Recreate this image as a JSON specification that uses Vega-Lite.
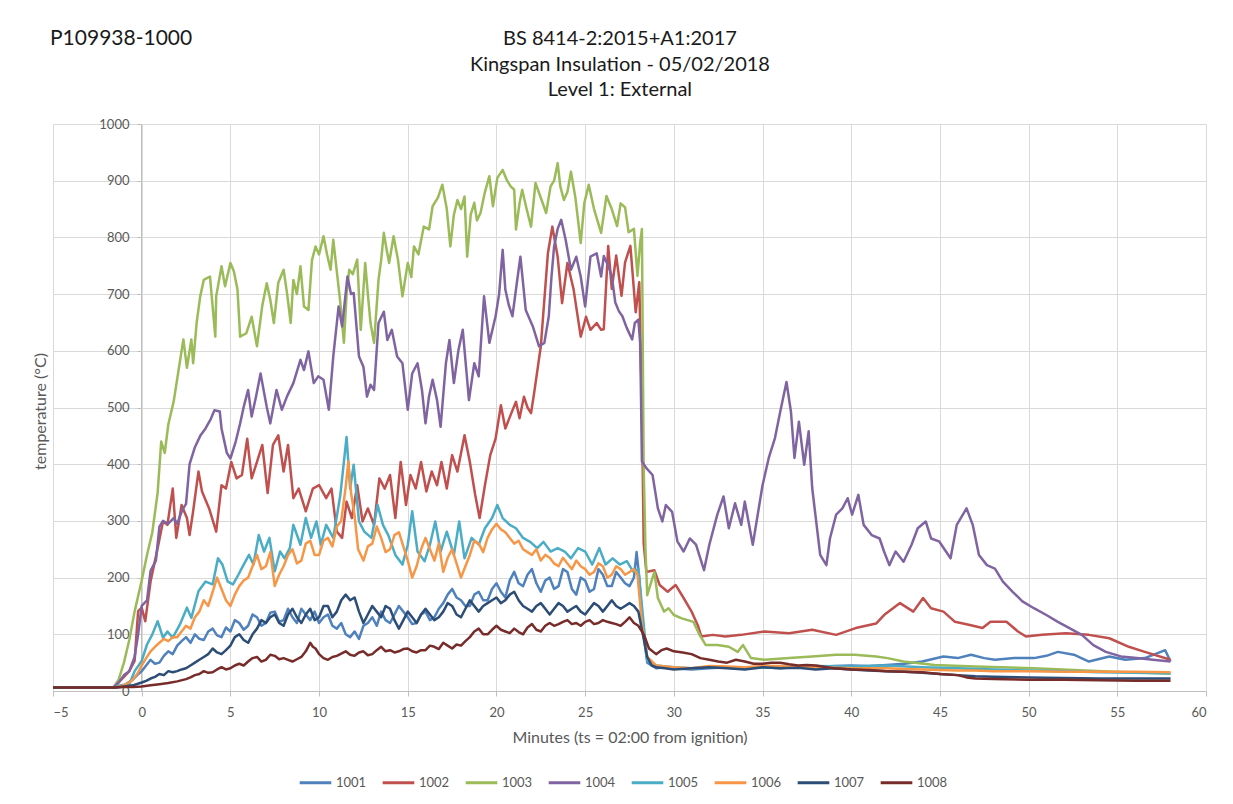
{
  "$schema": "https://vega.github.io/schema/vega-lite/v6.json",
  "width": 1153,
  "height": 567,
  "autosize": {"type": "none"},
  "padding": {"left": 53, "top": 124, "right": 27, "bottom": 113},
  "background": "white",
  "config": {
    "font": "Lato",
    "view": {"stroke": null}
  },
  "layer": [
    {
      "data": {
        "values": [
          {"s":"1001","t":-5,"v":6},{"s":"1001","t":-1.5,"v":6},{"s":"1001","t":-1.25,"v":8},{"s":"1001","t":-1,"v":10},{"s":"1001","t":-0.75,"v":15},{"s":"1001","t":-0.5,"v":20},{"s":"1001","t":-0.25,"v":28},{"s":"1001","t":0,"v":35},{"s":"1001","t":0.25,"v":45},{"s":"1001","t":0.5,"v":55},{"s":"1001","t":0.75,"v":48},{"s":"1001","t":1,"v":50},{"s":"1001","t":1.25,"v":62},{"s":"1001","t":1.5,"v":70},{"s":"1001","t":1.75,"v":65},{"s":"1001","t":2,"v":80},{"s":"1001","t":2.25,"v":88},{"s":"1001","t":2.5,"v":95},{"s":"1001","t":2.75,"v":85},{"s":"1001","t":3,"v":100},{"s":"1001","t":3.25,"v":92},{"s":"1001","t":3.5,"v":90},{"s":"1001","t":3.75,"v":105},{"s":"1001","t":4,"v":110},{"s":"1001","t":4.25,"v":98},{"s":"1001","t":4.5,"v":95},{"s":"1001","t":4.75,"v":112},{"s":"1001","t":5,"v":105},{"s":"1001","t":5.25,"v":125},{"s":"1001","t":5.5,"v":120},{"s":"1001","t":5.75,"v":108},{"s":"1001","t":6,"v":115},{"s":"1001","t":6.25,"v":135},{"s":"1001","t":6.5,"v":130},{"s":"1001","t":6.75,"v":115},{"s":"1001","t":7,"v":120},{"s":"1001","t":7.25,"v":138},{"s":"1001","t":7.5,"v":140},{"s":"1001","t":7.75,"v":122},{"s":"1001","t":8,"v":125},{"s":"1001","t":8.25,"v":145},{"s":"1001","t":8.5,"v":130},{"s":"1001","t":8.75,"v":120},{"s":"1001","t":9,"v":145},{"s":"1001","t":9.25,"v":135},{"s":"1001","t":9.5,"v":125},{"s":"1001","t":9.75,"v":140},{"s":"1001","t":10,"v":120},{"s":"1001","t":10.25,"v":130},{"s":"1001","t":10.5,"v":135},{"s":"1001","t":10.75,"v":115},{"s":"1001","t":11,"v":110},{"s":"1001","t":11.25,"v":120},{"s":"1001","t":11.5,"v":100},{"s":"1001","t":11.75,"v":95},{"s":"1001","t":12,"v":105},{"s":"1001","t":12.25,"v":92},{"s":"1001","t":12.5,"v":115},{"s":"1001","t":12.75,"v":120},{"s":"1001","t":13,"v":130},{"s":"1001","t":13.25,"v":115},{"s":"1001","t":13.5,"v":140},{"s":"1001","t":13.75,"v":125},{"s":"1001","t":14,"v":120},{"s":"1001","t":14.25,"v":135},{"s":"1001","t":14.5,"v":150},{"s":"1001","t":14.75,"v":140},{"s":"1001","t":15,"v":130},{"s":"1001","t":15.25,"v":118},{"s":"1001","t":15.5,"v":120},{"s":"1001","t":15.75,"v":135},{"s":"1001","t":16,"v":140},{"s":"1001","t":16.25,"v":125},{"s":"1001","t":16.5,"v":130},{"s":"1001","t":16.75,"v":145},{"s":"1001","t":17,"v":155},{"s":"1001","t":17.25,"v":170},{"s":"1001","t":17.5,"v":180},{"s":"1001","t":17.75,"v":165},{"s":"1001","t":18,"v":160},{"s":"1001","t":18.25,"v":150},{"s":"1001","t":18.5,"v":150},{"s":"1001","t":18.75,"v":170},{"s":"1001","t":19,"v":175},{"s":"1001","t":19.25,"v":160},{"s":"1001","t":19.5,"v":160},{"s":"1001","t":19.75,"v":180},{"s":"1001","t":20,"v":190},{"s":"1001","t":20.25,"v":175},{"s":"1001","t":20.5,"v":165},{"s":"1001","t":20.75,"v":195},{"s":"1001","t":21,"v":210},{"s":"1001","t":21.25,"v":190},{"s":"1001","t":21.5,"v":185},{"s":"1001","t":21.75,"v":205},{"s":"1001","t":22,"v":215},{"s":"1001","t":22.25,"v":190},{"s":"1001","t":22.5,"v":175},{"s":"1001","t":22.75,"v":195},{"s":"1001","t":23,"v":200},{"s":"1001","t":23.25,"v":180},{"s":"1001","t":23.5,"v":185},{"s":"1001","t":23.75,"v":215},{"s":"1001","t":24,"v":210},{"s":"1001","t":24.25,"v":180},{"s":"1001","t":24.5,"v":170},{"s":"1001","t":24.75,"v":200},{"s":"1001","t":25,"v":195},{"s":"1001","t":25.25,"v":175},{"s":"1001","t":25.5,"v":180},{"s":"1001","t":25.75,"v":215},{"s":"1001","t":26,"v":205},{"s":"1001","t":26.25,"v":185},{"s":"1001","t":26.5,"v":185},{"s":"1001","t":26.75,"v":210},{"s":"1001","t":27,"v":200},{"s":"1001","t":27.25,"v":190},{"s":"1001","t":27.5,"v":185},{"s":"1001","t":27.75,"v":200},{"s":"1001","t":27.9,"v":245},{"s":"1001","t":28.05,"v":200},{"s":"1001","t":28.25,"v":110},{"s":"1001","t":28.5,"v":50},{"s":"1001","t":28.75,"v":45},{"s":"1001","t":29,"v":40},{"s":"1001","t":29.5,"v":42},{"s":"1001","t":30,"v":40},{"s":"1001","t":31,"v":38},{"s":"1001","t":32,"v":40},{"s":"1001","t":33,"v":42},{"s":"1001","t":34,"v":40},{"s":"1001","t":35,"v":42},{"s":"1001","t":36,"v":40},{"s":"1001","t":37,"v":43},{"s":"1001","t":38,"v":42},{"s":"1001","t":39,"v":44},{"s":"1001","t":40,"v":45},{"s":"1001","t":41,"v":44},{"s":"1001","t":42,"v":46},{"s":"1001","t":43,"v":48},{"s":"1001","t":44,"v":52},{"s":"1001","t":45.2,"v":61},{"s":"1001","t":46,"v":58},{"s":"1001","t":46.75,"v":64},{"s":"1001","t":47.5,"v":58},{"s":"1001","t":48.1,"v":55},{"s":"1001","t":49.2,"v":58},{"s":"1001","t":50.3,"v":58},{"s":"1001","t":51,"v":62},{"s":"1001","t":51.65,"v":69},{"s":"1001","t":52.55,"v":64},{"s":"1001","t":53.4,"v":52},{"s":"1001","t":54.55,"v":61},{"s":"1001","t":55.45,"v":55},{"s":"1001","t":56.55,"v":58},{"s":"1001","t":57.45,"v":69},{"s":"1001","t":57.7,"v":72},{"s":"1001","t":58,"v":52},

          {"s":"1002","t":-5,"v":6},{"s":"1002","t":-1.6,"v":6},{"s":"1002","t":-1.3,"v":15},{"s":"1002","t":-1,"v":25},{"s":"1002","t":-0.7,"v":35},{"s":"1002","t":-0.4,"v":53},{"s":"1002","t":-0.2,"v":141},{"s":"1002","t":0,"v":147},{"s":"1002","t":0.2,"v":123},{"s":"1002","t":0.5,"v":193},{"s":"1002","t":0.9,"v":252},{"s":"1002","t":1.2,"v":299},{"s":"1002","t":1.45,"v":293},{"s":"1002","t":1.75,"v":357},{"s":"1002","t":1.95,"v":270},{"s":"1002","t":2.25,"v":328},{"s":"1002","t":2.55,"v":305},{"s":"1002","t":2.7,"v":275},{"s":"1002","t":2.9,"v":317},{"s":"1002","t":3.2,"v":387},{"s":"1002","t":3.4,"v":352},{"s":"1002","t":3.8,"v":322},{"s":"1002","t":4.2,"v":281},{"s":"1002","t":4.5,"v":363},{"s":"1002","t":4.75,"v":357},{"s":"1002","t":5.05,"v":404},{"s":"1002","t":5.35,"v":375},{"s":"1002","t":5.65,"v":381},{"s":"1002","t":5.95,"v":445},{"s":"1002","t":6.2,"v":375},{"s":"1002","t":6.5,"v":404},{"s":"1002","t":6.8,"v":434},{"s":"1002","t":7.1,"v":349},{"s":"1002","t":7.4,"v":434},{"s":"1002","t":7.7,"v":451},{"s":"1002","t":8,"v":387},{"s":"1002","t":8.25,"v":434},{"s":"1002","t":8.55,"v":340},{"s":"1002","t":8.85,"v":357},{"s":"1002","t":9.25,"v":317},{"s":"1002","t":9.65,"v":357},{"s":"1002","t":10,"v":363},{"s":"1002","t":10.4,"v":340},{"s":"1002","t":10.7,"v":357},{"s":"1002","t":11,"v":281},{"s":"1002","t":11.3,"v":270},{"s":"1002","t":11.55,"v":334},{"s":"1002","t":11.85,"v":305},{"s":"1002","t":12.15,"v":363},{"s":"1002","t":12.45,"v":299},{"s":"1002","t":12.75,"v":322},{"s":"1002","t":13.1,"v":293},{"s":"1002","t":13.4,"v":375},{"s":"1002","t":13.7,"v":357},{"s":"1002","t":14,"v":381},{"s":"1002","t":14.3,"v":305},{"s":"1002","t":14.6,"v":404},{"s":"1002","t":14.9,"v":328},{"s":"1002","t":15.15,"v":381},{"s":"1002","t":15.45,"v":357},{"s":"1002","t":15.75,"v":404},{"s":"1002","t":16.05,"v":352},{"s":"1002","t":16.35,"v":387},{"s":"1002","t":16.65,"v":363},{"s":"1002","t":16.9,"v":404},{"s":"1002","t":17.2,"v":357},{"s":"1002","t":17.5,"v":416},{"s":"1002","t":17.8,"v":387},{"s":"1002","t":18.2,"v":451},{"s":"1002","t":18.5,"v":404},{"s":"1002","t":18.8,"v":346},{"s":"1002","t":19.05,"v":305},{"s":"1002","t":19.35,"v":363},{"s":"1002","t":19.65,"v":416},{"s":"1002","t":19.95,"v":445},{"s":"1002","t":20.25,"v":504},{"s":"1002","t":20.5,"v":463},{"s":"1002","t":20.8,"v":487},{"s":"1002","t":21.1,"v":510},{"s":"1002","t":21.3,"v":481},{"s":"1002","t":21.55,"v":519},{"s":"1002","t":21.75,"v":500},{"s":"1002","t":21.95,"v":490},{"s":"1002","t":22.15,"v":531},{"s":"1002","t":22.5,"v":608},{"s":"1002","t":22.9,"v":772},{"s":"1002","t":23.15,"v":819},{"s":"1002","t":23.45,"v":766},{"s":"1002","t":23.7,"v":684},{"s":"1002","t":24,"v":755},{"s":"1002","t":24.35,"v":708},{"s":"1002","t":24.75,"v":625},{"s":"1002","t":25.05,"v":660},{"s":"1002","t":25.3,"v":637},{"s":"1002","t":25.65,"v":649},{"s":"1002","t":25.9,"v":637},{"s":"1002","t":26.05,"v":638},{"s":"1002","t":26.3,"v":785},{"s":"1002","t":26.5,"v":709},{"s":"1002","t":26.75,"v":768},{"s":"1002","t":27.05,"v":697},{"s":"1002","t":27.25,"v":756},{"s":"1002","t":27.55,"v":785},{"s":"1002","t":27.85,"v":668},{"s":"1002","t":28.05,"v":721},{"s":"1002","t":28.2,"v":500},{"s":"1002","t":28.3,"v":260},{"s":"1002","t":28.45,"v":210},{"s":"1002","t":28.9,"v":213},{"s":"1002","t":29.2,"v":187},{"s":"1002","t":29.65,"v":175},{"s":"1002","t":30.1,"v":187},{"s":"1002","t":30.55,"v":164},{"s":"1002","t":31,"v":140},{"s":"1002","t":31.35,"v":116},{"s":"1002","t":31.55,"v":96},{"s":"1002","t":32.2,"v":99},{"s":"1002","t":32.9,"v":96},{"s":"1002","t":33.8,"v":99},{"s":"1002","t":35.1,"v":105},{"s":"1002","t":36.5,"v":102},{"s":"1002","t":37.8,"v":108},{"s":"1002","t":39.15,"v":99},{"s":"1002","t":40.25,"v":111},{"s":"1002","t":41.4,"v":119},{"s":"1002","t":41.85,"v":134},{"s":"1002","t":42.75,"v":155},{"s":"1002","t":43.5,"v":140},{"s":"1002","t":44.05,"v":164},{"s":"1002","t":44.5,"v":146},{"s":"1002","t":45.2,"v":140},{"s":"1002","t":45.85,"v":122},{"s":"1002","t":46.75,"v":116},{"s":"1002","t":47.4,"v":111},{"s":"1002","t":47.85,"v":122},{"s":"1002","t":48.75,"v":122},{"s":"1002","t":49.4,"v":105},{"s":"1002","t":49.85,"v":96},{"s":"1002","t":50.75,"v":99},{"s":"1002","t":52.1,"v":102},{"s":"1002","t":53.4,"v":99},{"s":"1002","t":54.55,"v":93},{"s":"1002","t":55.65,"v":78},{"s":"1002","t":56.55,"v":69},{"s":"1002","t":58,"v":55},

          {"s":"1003","t":-5,"v":6},{"s":"1003","t":-1.6,"v":6},{"s":"1003","t":-1.3,"v":20},{"s":"1003","t":-1,"v":50},{"s":"1003","t":-0.7,"v":90},{"s":"1003","t":-0.4,"v":140},{"s":"1003","t":0,"v":195},{"s":"1003","t":0.3,"v":240},{"s":"1003","t":0.6,"v":280},{"s":"1003","t":0.9,"v":350},{"s":"1003","t":1.1,"v":440},{"s":"1003","t":1.3,"v":420},{"s":"1003","t":1.5,"v":470},{"s":"1003","t":1.8,"v":510},{"s":"1003","t":2,"v":550},{"s":"1003","t":2.35,"v":620},{"s":"1003","t":2.55,"v":570},{"s":"1003","t":2.8,"v":620},{"s":"1003","t":2.9,"v":578},{"s":"1003","t":3.1,"v":650},{"s":"1003","t":3.3,"v":696},{"s":"1003","t":3.5,"v":725},{"s":"1003","t":3.85,"v":731},{"s":"1003","t":4.15,"v":625},{"s":"1003","t":4.2,"v":696},{"s":"1003","t":4.5,"v":749},{"s":"1003","t":4.7,"v":714},{"s":"1003","t":5,"v":755},{"s":"1003","t":5.2,"v":740},{"s":"1003","t":5.4,"v":708},{"s":"1003","t":5.55,"v":625},{"s":"1003","t":5.9,"v":631},{"s":"1003","t":6.2,"v":660},{"s":"1003","t":6.5,"v":608},{"s":"1003","t":6.8,"v":680},{"s":"1003","t":7.05,"v":719},{"s":"1003","t":7.25,"v":690},{"s":"1003","t":7.45,"v":649},{"s":"1003","t":7.7,"v":720},{"s":"1003","t":8,"v":743},{"s":"1003","t":8.2,"v":700},{"s":"1003","t":8.4,"v":649},{"s":"1003","t":8.55,"v":725},{"s":"1003","t":8.75,"v":700},{"s":"1003","t":8.95,"v":749},{"s":"1003","t":9.15,"v":678},{"s":"1003","t":9.4,"v":672},{"s":"1003","t":9.6,"v":760},{"s":"1003","t":9.8,"v":784},{"s":"1003","t":10,"v":770},{"s":"1003","t":10.25,"v":802},{"s":"1003","t":10.45,"v":770},{"s":"1003","t":10.65,"v":743},{"s":"1003","t":10.8,"v":796},{"s":"1003","t":11,"v":740},{"s":"1003","t":11.2,"v":684},{"s":"1003","t":11.4,"v":614},{"s":"1003","t":11.55,"v":700},{"s":"1003","t":11.7,"v":743},{"s":"1003","t":11.9,"v":735},{"s":"1003","t":12.15,"v":761},{"s":"1003","t":12.35,"v":637},{"s":"1003","t":12.6,"v":755},{"s":"1003","t":12.75,"v":700},{"s":"1003","t":12.9,"v":649},{"s":"1003","t":13.1,"v":614},{"s":"1003","t":13.35,"v":725},{"s":"1003","t":13.5,"v":760},{"s":"1003","t":13.65,"v":808},{"s":"1003","t":13.8,"v":780},{"s":"1003","t":13.95,"v":755},{"s":"1003","t":14.2,"v":802},{"s":"1003","t":14.45,"v":760},{"s":"1003","t":14.7,"v":696},{"s":"1003","t":15,"v":755},{"s":"1003","t":15.2,"v":730},{"s":"1003","t":15.35,"v":784},{"s":"1003","t":15.6,"v":770},{"s":"1003","t":15.9,"v":819},{"s":"1003","t":16.2,"v":814},{"s":"1003","t":16.4,"v":855},{"s":"1003","t":16.7,"v":870},{"s":"1003","t":16.95,"v":893},{"s":"1003","t":17.2,"v":850},{"s":"1003","t":17.4,"v":784},{"s":"1003","t":17.6,"v":840},{"s":"1003","t":17.8,"v":866},{"s":"1003","t":18,"v":850},{"s":"1003","t":18.2,"v":872},{"s":"1003","t":18.35,"v":766},{"s":"1003","t":18.55,"v":840},{"s":"1003","t":18.75,"v":861},{"s":"1003","t":18.9,"v":830},{"s":"1003","t":19.1,"v":843},{"s":"1003","t":19.35,"v":880},{"s":"1003","t":19.6,"v":908},{"s":"1003","t":19.8,"v":855},{"s":"1003","t":20.05,"v":905},{"s":"1003","t":20.35,"v":919},{"s":"1003","t":20.6,"v":900},{"s":"1003","t":20.8,"v":890},{"s":"1003","t":21,"v":884},{"s":"1003","t":21.1,"v":814},{"s":"1003","t":21.3,"v":860},{"s":"1003","t":21.45,"v":884},{"s":"1003","t":21.7,"v":850},{"s":"1003","t":21.95,"v":819},{"s":"1003","t":22.2,"v":896},{"s":"1003","t":22.5,"v":870},{"s":"1003","t":22.8,"v":843},{"s":"1003","t":23.05,"v":890},{"s":"1003","t":23.25,"v":900},{"s":"1003","t":23.45,"v":931},{"s":"1003","t":23.6,"v":890},{"s":"1003","t":23.8,"v":866},{"s":"1003","t":24,"v":880},{"s":"1003","t":24.2,"v":916},{"s":"1003","t":24.45,"v":870},{"s":"1003","t":24.75,"v":790},{"s":"1003","t":24.95,"v":860},{"s":"1003","t":25.2,"v":893},{"s":"1003","t":25.5,"v":850},{"s":"1003","t":25.9,"v":808},{"s":"1003","t":26.2,"v":873},{"s":"1003","t":26.5,"v":850},{"s":"1003","t":26.8,"v":820},{"s":"1003","t":27,"v":860},{"s":"1003","t":27.25,"v":853},{"s":"1003","t":27.45,"v":809},{"s":"1003","t":27.75,"v":815},{"s":"1003","t":27.95,"v":732},{"s":"1003","t":28.1,"v":790},{"s":"1003","t":28.2,"v":815},{"s":"1003","t":28.25,"v":600},{"s":"1003","t":28.3,"v":393},{"s":"1003","t":28.4,"v":250},{"s":"1003","t":28.5,"v":169},{"s":"1003","t":28.9,"v":210},{"s":"1003","t":29.1,"v":164},{"s":"1003","t":29.45,"v":140},{"s":"1003","t":29.7,"v":146},{"s":"1003","t":30,"v":134},{"s":"1003","t":30.45,"v":128},{"s":"1003","t":31.1,"v":122},{"s":"1003","t":31.45,"v":99},{"s":"1003","t":31.8,"v":81},{"s":"1003","t":32.45,"v":81},{"s":"1003","t":33.1,"v":78},{"s":"1003","t":33.6,"v":69},{"s":"1003","t":33.9,"v":81},{"s":"1003","t":34.35,"v":58},{"s":"1003","t":35.1,"v":55},{"s":"1003","t":36.5,"v":58},{"s":"1003","t":37.8,"v":61},{"s":"1003","t":39.15,"v":64},{"s":"1003","t":40.2,"v":64},{"s":"1003","t":41.4,"v":61},{"s":"1003","t":42.05,"v":58},{"s":"1003","t":42.95,"v":52},{"s":"1003","t":44.7,"v":46},{"s":"1003","t":47,"v":43},{"s":"1003","t":50.3,"v":40},{"s":"1003","t":54.8,"v":34},{"s":"1003","t":58,"v":31},

          {"s":"1004","t":-5,"v":6},{"s":"1004","t":-1.6,"v":6},{"s":"1004","t":-1.3,"v":15},{"s":"1004","t":-1,"v":28},{"s":"1004","t":-0.7,"v":35},{"s":"1004","t":-0.4,"v":60},{"s":"1004","t":-0.2,"v":100},{"s":"1004","t":0,"v":150},{"s":"1004","t":0.3,"v":160},{"s":"1004","t":0.5,"v":212},{"s":"1004","t":0.8,"v":230},{"s":"1004","t":1,"v":290},{"s":"1004","t":1.2,"v":300},{"s":"1004","t":1.5,"v":295},{"s":"1004","t":1.8,"v":305},{"s":"1004","t":2,"v":295},{"s":"1004","t":2.3,"v":320},{"s":"1004","t":2.5,"v":330},{"s":"1004","t":2.7,"v":400},{"s":"1004","t":3,"v":430},{"s":"1004","t":3.3,"v":450},{"s":"1004","t":3.6,"v":463},{"s":"1004","t":3.9,"v":480},{"s":"1004","t":4.1,"v":495},{"s":"1004","t":4.4,"v":493},{"s":"1004","t":4.5,"v":463},{"s":"1004","t":4.8,"v":420},{"s":"1004","t":5,"v":410},{"s":"1004","t":5.3,"v":440},{"s":"1004","t":5.55,"v":472},{"s":"1004","t":5.75,"v":501},{"s":"1004","t":6,"v":531},{"s":"1004","t":6.2,"v":484},{"s":"1004","t":6.45,"v":520},{"s":"1004","t":6.7,"v":560},{"s":"1004","t":7.05,"v":501},{"s":"1004","t":7.25,"v":472},{"s":"1004","t":7.6,"v":531},{"s":"1004","t":7.9,"v":496},{"s":"1004","t":8.2,"v":520},{"s":"1004","t":8.55,"v":543},{"s":"1004","t":8.95,"v":584},{"s":"1004","t":9.15,"v":566},{"s":"1004","t":9.4,"v":599},{"s":"1004","t":9.7,"v":543},{"s":"1004","t":9.95,"v":555},{"s":"1004","t":10.25,"v":549},{"s":"1004","t":10.55,"v":496},{"s":"1004","t":10.8,"v":590},{"s":"1004","t":11.1,"v":678},{"s":"1004","t":11.3,"v":643},{"s":"1004","t":11.6,"v":731},{"s":"1004","t":11.8,"v":700},{"s":"1004","t":11.95,"v":702},{"s":"1004","t":12.25,"v":590},{"s":"1004","t":12.5,"v":572},{"s":"1004","t":12.7,"v":519},{"s":"1004","t":12.9,"v":540},{"s":"1004","t":13.1,"v":531},{"s":"1004","t":13.35,"v":649},{"s":"1004","t":13.65,"v":669},{"s":"1004","t":13.85,"v":619},{"s":"1004","t":14.1,"v":637},{"s":"1004","t":14.4,"v":590},{"s":"1004","t":14.7,"v":578},{"s":"1004","t":15,"v":496},{"s":"1004","t":15.25,"v":560},{"s":"1004","t":15.55,"v":578},{"s":"1004","t":15.8,"v":531},{"s":"1004","t":16,"v":472},{"s":"1004","t":16.2,"v":520},{"s":"1004","t":16.4,"v":549},{"s":"1004","t":16.65,"v":513},{"s":"1004","t":16.85,"v":466},{"s":"1004","t":17.15,"v":578},{"s":"1004","t":17.35,"v":619},{"s":"1004","t":17.6,"v":543},{"s":"1004","t":17.85,"v":600},{"s":"1004","t":18.1,"v":637},{"s":"1004","t":18.45,"v":513},{"s":"1004","t":18.75,"v":578},{"s":"1004","t":19,"v":555},{"s":"1004","t":19.3,"v":696},{"s":"1004","t":19.6,"v":614},{"s":"1004","t":19.95,"v":661},{"s":"1004","t":20.15,"v":700},{"s":"1004","t":20.35,"v":778},{"s":"1004","t":20.5,"v":708},{"s":"1004","t":20.7,"v":680},{"s":"1004","t":20.9,"v":661},{"s":"1004","t":21.15,"v":720},{"s":"1004","t":21.35,"v":766},{"s":"1004","t":21.65,"v":672},{"s":"1004","t":22.05,"v":643},{"s":"1004","t":22.4,"v":608},{"s":"1004","t":22.7,"v":614},{"s":"1004","t":22.95,"v":661},{"s":"1004","t":23.1,"v":730},{"s":"1004","t":23.25,"v":784},{"s":"1004","t":23.45,"v":815},{"s":"1004","t":23.65,"v":831},{"s":"1004","t":23.9,"v":796},{"s":"1004","t":24.2,"v":743},{"s":"1004","t":24.5,"v":766},{"s":"1004","t":24.75,"v":731},{"s":"1004","t":25,"v":678},{"s":"1004","t":25.3,"v":766},{"s":"1004","t":25.65,"v":772},{"s":"1004","t":25.9,"v":731},{"s":"1004","t":26.05,"v":767},{"s":"1004","t":26.3,"v":750},{"s":"1004","t":26.5,"v":732},{"s":"1004","t":26.7,"v":685},{"s":"1004","t":26.9,"v":670},{"s":"1004","t":27.1,"v":661},{"s":"1004","t":27.35,"v":640},{"s":"1004","t":27.65,"v":620},{"s":"1004","t":27.8,"v":649},{"s":"1004","t":28,"v":655},{"s":"1004","t":28.1,"v":614},{"s":"1004","t":28.15,"v":516},{"s":"1004","t":28.2,"v":405},{"s":"1004","t":28.45,"v":393},{"s":"1004","t":28.8,"v":381},{"s":"1004","t":29.1,"v":322},{"s":"1004","t":29.35,"v":299},{"s":"1004","t":29.55,"v":328},{"s":"1004","t":29.9,"v":316},{"s":"1004","t":30.2,"v":264},{"s":"1004","t":30.55,"v":246},{"s":"1004","t":30.9,"v":269},{"s":"1004","t":31.25,"v":258},{"s":"1004","t":31.7,"v":213},{"s":"1004","t":32,"v":258},{"s":"1004","t":32.45,"v":311},{"s":"1004","t":32.8,"v":343},{"s":"1004","t":33.1,"v":287},{"s":"1004","t":33.45,"v":331},{"s":"1004","t":33.8,"v":293},{"s":"1004","t":34,"v":334},{"s":"1004","t":34.45,"v":258},{"s":"1004","t":35,"v":363},{"s":"1004","t":35.35,"v":411},{"s":"1004","t":35.7,"v":446},{"s":"1004","t":36,"v":493},{"s":"1004","t":36.35,"v":545},{"s":"1004","t":36.6,"v":493},{"s":"1004","t":36.8,"v":411},{"s":"1004","t":37.05,"v":475},{"s":"1004","t":37.35,"v":399},{"s":"1004","t":37.6,"v":458},{"s":"1004","t":37.8,"v":358},{"s":"1004","t":38.25,"v":240},{"s":"1004","t":38.6,"v":222},{"s":"1004","t":38.8,"v":269},{"s":"1004","t":39.15,"v":311},{"s":"1004","t":39.5,"v":322},{"s":"1004","t":39.8,"v":340},{"s":"1004","t":40.05,"v":311},{"s":"1004","t":40.4,"v":346},{"s":"1004","t":40.7,"v":293},{"s":"1004","t":41.15,"v":275},{"s":"1004","t":41.6,"v":269},{"s":"1004","t":41.85,"v":246},{"s":"1004","t":42.15,"v":222},{"s":"1004","t":42.5,"v":246},{"s":"1004","t":42.95,"v":228},{"s":"1004","t":43.4,"v":258},{"s":"1004","t":43.75,"v":287},{"s":"1004","t":44.2,"v":299},{"s":"1004","t":44.5,"v":269},{"s":"1004","t":44.95,"v":264},{"s":"1004","t":45.6,"v":234},{"s":"1004","t":45.95,"v":293},{"s":"1004","t":46.5,"v":322},{"s":"1004","t":46.85,"v":293},{"s":"1004","t":47.2,"v":240},{"s":"1004","t":47.65,"v":222},{"s":"1004","t":48.1,"v":216},{"s":"1004","t":48.55,"v":193},{"s":"1004","t":49.1,"v":175},{"s":"1004","t":49.65,"v":158},{"s":"1004","t":50.3,"v":146},{"s":"1004","t":51,"v":134},{"s":"1004","t":51.65,"v":122},{"s":"1004","t":52.3,"v":111},{"s":"1004","t":53,"v":99},{"s":"1004","t":53.65,"v":81},{"s":"1004","t":54.35,"v":69},{"s":"1004","t":55.2,"v":61},{"s":"1004","t":56.1,"v":58},{"s":"1004","t":57,"v":55},{"s":"1004","t":58,"v":52},

          {"s":"1005","t":-5,"v":6},{"s":"1005","t":-1.6,"v":6},{"s":"1005","t":-1.2,"v":10},{"s":"1005","t":-0.7,"v":12},{"s":"1005","t":-0.4,"v":35},{"s":"1005","t":0,"v":53},{"s":"1005","t":0.3,"v":82},{"s":"1005","t":0.6,"v":100},{"s":"1005","t":0.9,"v":123},{"s":"1005","t":1.2,"v":94},{"s":"1005","t":1.45,"v":105},{"s":"1005","t":1.75,"v":94},{"s":"1005","t":2.15,"v":117},{"s":"1005","t":2.55,"v":147},{"s":"1005","t":2.8,"v":129},{"s":"1005","t":3.2,"v":176},{"s":"1005","t":3.6,"v":193},{"s":"1005","t":4,"v":188},{"s":"1005","t":4.3,"v":234},{"s":"1005","t":4.55,"v":223},{"s":"1005","t":4.85,"v":193},{"s":"1005","t":5.15,"v":188},{"s":"1005","t":5.45,"v":205},{"s":"1005","t":5.75,"v":223},{"s":"1005","t":6.05,"v":240},{"s":"1005","t":6.3,"v":223},{"s":"1005","t":6.6,"v":275},{"s":"1005","t":6.9,"v":246},{"s":"1005","t":7.2,"v":270},{"s":"1005","t":7.5,"v":211},{"s":"1005","t":7.8,"v":246},{"s":"1005","t":8.05,"v":234},{"s":"1005","t":8.35,"v":252},{"s":"1005","t":8.55,"v":293},{"s":"1005","t":8.95,"v":258},{"s":"1005","t":9.25,"v":305},{"s":"1005","t":9.55,"v":270},{"s":"1005","t":9.85,"v":299},{"s":"1005","t":10.1,"v":258},{"s":"1005","t":10.4,"v":293},{"s":"1005","t":10.8,"v":270},{"s":"1005","t":11.2,"v":346},{"s":"1005","t":11.55,"v":448},{"s":"1005","t":11.75,"v":357},{"s":"1005","t":11.95,"v":399},{"s":"1005","t":12.25,"v":299},{"s":"1005","t":12.55,"v":281},{"s":"1005","t":12.95,"v":270},{"s":"1005","t":13.3,"v":328},{"s":"1005","t":13.6,"v":293},{"s":"1005","t":13.9,"v":275},{"s":"1005","t":14.3,"v":240},{"s":"1005","t":14.7,"v":223},{"s":"1005","t":15,"v":258},{"s":"1005","t":15.25,"v":317},{"s":"1005","t":15.55,"v":246},{"s":"1005","t":15.95,"v":229},{"s":"1005","t":16.25,"v":258},{"s":"1005","t":16.55,"v":299},{"s":"1005","t":16.85,"v":246},{"s":"1005","t":17.2,"v":281},{"s":"1005","t":17.6,"v":240},{"s":"1005","t":17.9,"v":299},{"s":"1005","t":18.2,"v":234},{"s":"1005","t":18.6,"v":270},{"s":"1005","t":19,"v":258},{"s":"1005","t":19.35,"v":287},{"s":"1005","t":19.75,"v":305},{"s":"1005","t":20.05,"v":328},{"s":"1005","t":20.35,"v":305},{"s":"1005","t":20.75,"v":293},{"s":"1005","t":21.1,"v":287},{"s":"1005","t":21.5,"v":270},{"s":"1005","t":21.9,"v":263},{"s":"1005","t":22.3,"v":252},{"s":"1005","t":22.65,"v":263},{"s":"1005","t":23.05,"v":246},{"s":"1005","t":23.45,"v":252},{"s":"1005","t":23.85,"v":246},{"s":"1005","t":24.2,"v":234},{"s":"1005","t":24.6,"v":252},{"s":"1005","t":25,"v":246},{"s":"1005","t":25.4,"v":223},{"s":"1005","t":25.8,"v":252},{"s":"1005","t":26.15,"v":223},{"s":"1005","t":26.55,"v":234},{"s":"1005","t":26.95,"v":223},{"s":"1005","t":27.35,"v":229},{"s":"1005","t":27.7,"v":211},{"s":"1005","t":28,"v":215},{"s":"1005","t":28.2,"v":150},{"s":"1005","t":28.5,"v":53},{"s":"1005","t":29,"v":45},{"s":"1005","t":30,"v":42},{"s":"1005","t":31,"v":40},{"s":"1005","t":32,"v":42},{"s":"1005","t":34,"v":40},{"s":"1005","t":36,"v":42},{"s":"1005","t":38,"v":44},{"s":"1005","t":40,"v":43},{"s":"1005","t":42,"v":45},{"s":"1005","t":44,"v":42},{"s":"1005","t":46,"v":40},{"s":"1005","t":48,"v":38},{"s":"1005","t":50,"v":36},{"s":"1005","t":52,"v":35},{"s":"1005","t":54,"v":33},{"s":"1005","t":56,"v":32},{"s":"1005","t":58,"v":31},

          {"s":"1006","t":-5,"v":6},{"s":"1006","t":-1.5,"v":6},{"s":"1006","t":-1.25,"v":8},{"s":"1006","t":-1,"v":10},{"s":"1006","t":-0.75,"v":14},{"s":"1006","t":-0.5,"v":20},{"s":"1006","t":-0.25,"v":30},{"s":"1006","t":0,"v":45},{"s":"1006","t":0.25,"v":58},{"s":"1006","t":0.5,"v":70},{"s":"1006","t":0.75,"v":78},{"s":"1006","t":1,"v":85},{"s":"1006","t":1.25,"v":92},{"s":"1006","t":1.5,"v":88},{"s":"1006","t":1.75,"v":95},{"s":"1006","t":2,"v":95},{"s":"1006","t":2.25,"v":105},{"s":"1006","t":2.5,"v":115},{"s":"1006","t":2.75,"v":110},{"s":"1006","t":3,"v":130},{"s":"1006","t":3.25,"v":140},{"s":"1006","t":3.5,"v":160},{"s":"1006","t":3.75,"v":150},{"s":"1006","t":4,"v":175},{"s":"1006","t":4.25,"v":200},{"s":"1006","t":4.5,"v":180},{"s":"1006","t":4.75,"v":160},{"s":"1006","t":5,"v":150},{"s":"1006","t":5.25,"v":170},{"s":"1006","t":5.5,"v":185},{"s":"1006","t":5.75,"v":195},{"s":"1006","t":6,"v":200},{"s":"1006","t":6.25,"v":220},{"s":"1006","t":6.5,"v":240},{"s":"1006","t":6.75,"v":215},{"s":"1006","t":7,"v":220},{"s":"1006","t":7.25,"v":245},{"s":"1006","t":7.5,"v":185},{"s":"1006","t":7.75,"v":205},{"s":"1006","t":8,"v":220},{"s":"1006","t":8.25,"v":240},{"s":"1006","t":8.5,"v":250},{"s":"1006","t":8.75,"v":225},{"s":"1006","t":9,"v":230},{"s":"1006","t":9.25,"v":260},{"s":"1006","t":9.5,"v":265},{"s":"1006","t":9.75,"v":240},{"s":"1006","t":10,"v":240},{"s":"1006","t":10.25,"v":265},{"s":"1006","t":10.5,"v":270},{"s":"1006","t":10.75,"v":255},{"s":"1006","t":11,"v":290},{"s":"1006","t":11.25,"v":300},{"s":"1006","t":11.5,"v":360},{"s":"1006","t":11.65,"v":405},{"s":"1006","t":11.8,"v":350},{"s":"1006","t":12,"v":310},{"s":"1006","t":12.2,"v":250},{"s":"1006","t":12.5,"v":230},{"s":"1006","t":12.75,"v":255},{"s":"1006","t":13,"v":260},{"s":"1006","t":13.25,"v":290},{"s":"1006","t":13.5,"v":270},{"s":"1006","t":13.75,"v":245},{"s":"1006","t":14,"v":250},{"s":"1006","t":14.25,"v":275},{"s":"1006","t":14.5,"v":280},{"s":"1006","t":14.75,"v":255},{"s":"1006","t":15,"v":230},{"s":"1006","t":15.25,"v":200},{"s":"1006","t":15.5,"v":220},{"s":"1006","t":15.75,"v":250},{"s":"1006","t":16,"v":270},{"s":"1006","t":16.25,"v":250},{"s":"1006","t":16.5,"v":230},{"s":"1006","t":16.75,"v":260},{"s":"1006","t":17,"v":210},{"s":"1006","t":17.25,"v":235},{"s":"1006","t":17.5,"v":250},{"s":"1006","t":17.75,"v":225},{"s":"1006","t":18,"v":200},{"s":"1006","t":18.25,"v":220},{"s":"1006","t":18.5,"v":240},{"s":"1006","t":18.75,"v":265},{"s":"1006","t":19,"v":260},{"s":"1006","t":19.25,"v":245},{"s":"1006","t":19.5,"v":270},{"s":"1006","t":19.75,"v":285},{"s":"1006","t":20,"v":295},{"s":"1006","t":20.25,"v":285},{"s":"1006","t":20.5,"v":280},{"s":"1006","t":20.75,"v":270},{"s":"1006","t":21,"v":260},{"s":"1006","t":21.25,"v":265},{"s":"1006","t":21.5,"v":250},{"s":"1006","t":21.75,"v":245},{"s":"1006","t":22,"v":240},{"s":"1006","t":22.25,"v":250},{"s":"1006","t":22.5,"v":230},{"s":"1006","t":22.75,"v":240},{"s":"1006","t":23,"v":235},{"s":"1006","t":23.25,"v":225},{"s":"1006","t":23.5,"v":220},{"s":"1006","t":23.75,"v":235},{"s":"1006","t":24,"v":225},{"s":"1006","t":24.25,"v":215},{"s":"1006","t":24.5,"v":230},{"s":"1006","t":24.75,"v":220},{"s":"1006","t":25,"v":215},{"s":"1006","t":25.25,"v":205},{"s":"1006","t":25.5,"v":210},{"s":"1006","t":25.75,"v":225},{"s":"1006","t":26,"v":220},{"s":"1006","t":26.25,"v":200},{"s":"1006","t":26.5,"v":205},{"s":"1006","t":26.75,"v":220},{"s":"1006","t":27,"v":215},{"s":"1006","t":27.25,"v":205},{"s":"1006","t":27.5,"v":210},{"s":"1006","t":27.75,"v":215},{"s":"1006","t":27.95,"v":205},{"s":"1006","t":28.2,"v":120},{"s":"1006","t":28.5,"v":60},{"s":"1006","t":29,"v":45},{"s":"1006","t":30,"v":42},{"s":"1006","t":31,"v":40},{"s":"1006","t":32,"v":44},{"s":"1006","t":33,"v":43},{"s":"1006","t":34,"v":42},{"s":"1006","t":35,"v":44},{"s":"1006","t":36,"v":44},{"s":"1006","t":37,"v":42},{"s":"1006","t":38,"v":42},{"s":"1006","t":39,"v":41},{"s":"1006","t":40,"v":40},{"s":"1006","t":41,"v":40},{"s":"1006","t":42,"v":40},{"s":"1006","t":43,"v":39},{"s":"1006","t":44,"v":38},{"s":"1006","t":45,"v":37},{"s":"1006","t":46,"v":36},{"s":"1006","t":47,"v":36},{"s":"1006","t":48,"v":35},{"s":"1006","t":50,"v":35},{"s":"1006","t":52,"v":34},{"s":"1006","t":54,"v":34},{"s":"1006","t":56,"v":34},{"s":"1006","t":58,"v":33},

          {"s":"1007","t":-5,"v":6},{"s":"1007","t":-1.5,"v":6},{"s":"1007","t":-1,"v":8},{"s":"1007","t":-0.5,"v":10},{"s":"1007","t":0,"v":15},{"s":"1007","t":0.25,"v":18},{"s":"1007","t":0.5,"v":22},{"s":"1007","t":0.75,"v":25},{"s":"1007","t":1,"v":30},{"s":"1007","t":1.25,"v":28},{"s":"1007","t":1.5,"v":35},{"s":"1007","t":1.75,"v":33},{"s":"1007","t":2,"v":35},{"s":"1007","t":2.25,"v":38},{"s":"1007","t":2.5,"v":40},{"s":"1007","t":2.75,"v":45},{"s":"1007","t":3,"v":50},{"s":"1007","t":3.25,"v":55},{"s":"1007","t":3.5,"v":60},{"s":"1007","t":3.75,"v":65},{"s":"1007","t":4,"v":75},{"s":"1007","t":4.25,"v":68},{"s":"1007","t":4.5,"v":65},{"s":"1007","t":4.75,"v":72},{"s":"1007","t":5,"v":80},{"s":"1007","t":5.25,"v":95},{"s":"1007","t":5.5,"v":100},{"s":"1007","t":5.75,"v":90},{"s":"1007","t":6,"v":85},{"s":"1007","t":6.25,"v":100},{"s":"1007","t":6.5,"v":110},{"s":"1007","t":6.75,"v":125},{"s":"1007","t":7,"v":120},{"s":"1007","t":7.25,"v":130},{"s":"1007","t":7.5,"v":135},{"s":"1007","t":7.75,"v":120},{"s":"1007","t":8,"v":115},{"s":"1007","t":8.25,"v":135},{"s":"1007","t":8.5,"v":145},{"s":"1007","t":8.75,"v":130},{"s":"1007","t":9,"v":120},{"s":"1007","t":9.25,"v":135},{"s":"1007","t":9.5,"v":145},{"s":"1007","t":9.75,"v":125},{"s":"1007","t":10,"v":130},{"s":"1007","t":10.25,"v":150},{"s":"1007","t":10.5,"v":150},{"s":"1007","t":10.75,"v":130},{"s":"1007","t":11,"v":140},{"s":"1007","t":11.25,"v":160},{"s":"1007","t":11.5,"v":170},{"s":"1007","t":11.75,"v":160},{"s":"1007","t":12,"v":165},{"s":"1007","t":12.25,"v":140},{"s":"1007","t":12.5,"v":120},{"s":"1007","t":12.75,"v":135},{"s":"1007","t":13,"v":150},{"s":"1007","t":13.25,"v":140},{"s":"1007","t":13.5,"v":130},{"s":"1007","t":13.75,"v":150},{"s":"1007","t":14,"v":145},{"s":"1007","t":14.25,"v":125},{"s":"1007","t":14.5,"v":110},{"s":"1007","t":14.75,"v":125},{"s":"1007","t":15,"v":140},{"s":"1007","t":15.25,"v":130},{"s":"1007","t":15.5,"v":120},{"s":"1007","t":15.75,"v":135},{"s":"1007","t":16,"v":145},{"s":"1007","t":16.25,"v":135},{"s":"1007","t":16.5,"v":125},{"s":"1007","t":16.75,"v":130},{"s":"1007","t":17,"v":140},{"s":"1007","t":17.25,"v":155},{"s":"1007","t":17.5,"v":150},{"s":"1007","t":17.75,"v":135},{"s":"1007","t":18,"v":130},{"s":"1007","t":18.25,"v":145},{"s":"1007","t":18.5,"v":160},{"s":"1007","t":18.75,"v":150},{"s":"1007","t":19,"v":140},{"s":"1007","t":19.25,"v":150},{"s":"1007","t":19.5,"v":155},{"s":"1007","t":19.75,"v":160},{"s":"1007","t":20,"v":165},{"s":"1007","t":20.25,"v":155},{"s":"1007","t":20.5,"v":160},{"s":"1007","t":20.75,"v":170},{"s":"1007","t":21,"v":175},{"s":"1007","t":21.25,"v":160},{"s":"1007","t":21.5,"v":150},{"s":"1007","t":21.75,"v":145},{"s":"1007","t":22,"v":140},{"s":"1007","t":22.25,"v":150},{"s":"1007","t":22.5,"v":155},{"s":"1007","t":22.75,"v":145},{"s":"1007","t":23,"v":135},{"s":"1007","t":23.25,"v":145},{"s":"1007","t":23.5,"v":155},{"s":"1007","t":23.75,"v":150},{"s":"1007","t":24,"v":140},{"s":"1007","t":24.25,"v":145},{"s":"1007","t":24.5,"v":150},{"s":"1007","t":24.75,"v":140},{"s":"1007","t":25,"v":135},{"s":"1007","t":25.25,"v":145},{"s":"1007","t":25.5,"v":155},{"s":"1007","t":25.75,"v":150},{"s":"1007","t":26,"v":140},{"s":"1007","t":26.25,"v":150},{"s":"1007","t":26.5,"v":160},{"s":"1007","t":26.75,"v":150},{"s":"1007","t":27,"v":145},{"s":"1007","t":27.25,"v":150},{"s":"1007","t":27.5,"v":155},{"s":"1007","t":27.75,"v":150},{"s":"1007","t":28,"v":140},{"s":"1007","t":28.25,"v":100},{"s":"1007","t":28.5,"v":60},{"s":"1007","t":28.75,"v":45},{"s":"1007","t":29,"v":42},{"s":"1007","t":29.5,"v":40},{"s":"1007","t":30,"v":38},{"s":"1007","t":31,"v":40},{"s":"1007","t":32,"v":42},{"s":"1007","t":33,"v":40},{"s":"1007","t":34,"v":38},{"s":"1007","t":35,"v":42},{"s":"1007","t":36,"v":40},{"s":"1007","t":37,"v":41},{"s":"1007","t":38,"v":38},{"s":"1007","t":39,"v":40},{"s":"1007","t":40,"v":38},{"s":"1007","t":41,"v":36},{"s":"1007","t":42,"v":35},{"s":"1007","t":43,"v":34},{"s":"1007","t":44,"v":32},{"s":"1007","t":45,"v":30},{"s":"1007","t":46,"v":28},{"s":"1007","t":47,"v":26},{"s":"1007","t":48,"v":25},{"s":"1007","t":50,"v":24},{"s":"1007","t":52,"v":23},{"s":"1007","t":54,"v":22},{"s":"1007","t":56,"v":22},{"s":"1007","t":58,"v":22},

          {"s":"1008","t":-5,"v":6},{"s":"1008","t":-1.5,"v":6},{"s":"1008","t":-1,"v":7},{"s":"1008","t":-0.5,"v":7},{"s":"1008","t":0,"v":8},{"s":"1008","t":0.5,"v":10},{"s":"1008","t":1,"v":12},{"s":"1008","t":1.5,"v":14},{"s":"1008","t":2,"v":17},{"s":"1008","t":2.5,"v":21},{"s":"1008","t":2.75,"v":24},{"s":"1008","t":3,"v":28},{"s":"1008","t":3.25,"v":30},{"s":"1008","t":3.5,"v":35},{"s":"1008","t":3.75,"v":32},{"s":"1008","t":4,"v":33},{"s":"1008","t":4.25,"v":38},{"s":"1008","t":4.5,"v":42},{"s":"1008","t":4.75,"v":38},{"s":"1008","t":5,"v":40},{"s":"1008","t":5.25,"v":45},{"s":"1008","t":5.5,"v":48},{"s":"1008","t":5.75,"v":45},{"s":"1008","t":6,"v":52},{"s":"1008","t":6.25,"v":58},{"s":"1008","t":6.5,"v":60},{"s":"1008","t":6.75,"v":52},{"s":"1008","t":7,"v":55},{"s":"1008","t":7.25,"v":64},{"s":"1008","t":7.5,"v":62},{"s":"1008","t":7.75,"v":56},{"s":"1008","t":8,"v":58},{"s":"1008","t":8.25,"v":55},{"s":"1008","t":8.5,"v":52},{"s":"1008","t":8.75,"v":56},{"s":"1008","t":9,"v":60},{"s":"1008","t":9.25,"v":70},{"s":"1008","t":9.5,"v":85},{"s":"1008","t":9.65,"v":78},{"s":"1008","t":9.8,"v":75},{"s":"1008","t":10,"v":65},{"s":"1008","t":10.25,"v":58},{"s":"1008","t":10.5,"v":55},{"s":"1008","t":10.75,"v":60},{"s":"1008","t":11,"v":62},{"s":"1008","t":11.25,"v":66},{"s":"1008","t":11.5,"v":70},{"s":"1008","t":11.75,"v":64},{"s":"1008","t":12,"v":62},{"s":"1008","t":12.25,"v":68},{"s":"1008","t":12.5,"v":70},{"s":"1008","t":12.75,"v":63},{"s":"1008","t":13,"v":65},{"s":"1008","t":13.25,"v":72},{"s":"1008","t":13.5,"v":78},{"s":"1008","t":13.75,"v":70},{"s":"1008","t":14,"v":72},{"s":"1008","t":14.25,"v":68},{"s":"1008","t":14.5,"v":70},{"s":"1008","t":14.75,"v":74},{"s":"1008","t":15,"v":75},{"s":"1008","t":15.25,"v":70},{"s":"1008","t":15.5,"v":68},{"s":"1008","t":15.75,"v":72},{"s":"1008","t":16,"v":72},{"s":"1008","t":16.25,"v":80},{"s":"1008","t":16.5,"v":78},{"s":"1008","t":16.75,"v":74},{"s":"1008","t":17,"v":85},{"s":"1008","t":17.25,"v":80},{"s":"1008","t":17.5,"v":75},{"s":"1008","t":17.75,"v":82},{"s":"1008","t":18,"v":80},{"s":"1008","t":18.25,"v":88},{"s":"1008","t":18.5,"v":95},{"s":"1008","t":18.75,"v":105},{"s":"1008","t":19,"v":110},{"s":"1008","t":19.25,"v":100},{"s":"1008","t":19.5,"v":100},{"s":"1008","t":19.75,"v":108},{"s":"1008","t":20,"v":115},{"s":"1008","t":20.25,"v":108},{"s":"1008","t":20.5,"v":105},{"s":"1008","t":20.75,"v":102},{"s":"1008","t":21,"v":110},{"s":"1008","t":21.25,"v":104},{"s":"1008","t":21.5,"v":100},{"s":"1008","t":21.75,"v":112},{"s":"1008","t":22,"v":118},{"s":"1008","t":22.25,"v":108},{"s":"1008","t":22.5,"v":105},{"s":"1008","t":22.75,"v":115},{"s":"1008","t":23,"v":120},{"s":"1008","t":23.25,"v":115},{"s":"1008","t":23.5,"v":118},{"s":"1008","t":23.75,"v":122},{"s":"1008","t":24,"v":125},{"s":"1008","t":24.25,"v":118},{"s":"1008","t":24.5,"v":120},{"s":"1008","t":24.75,"v":115},{"s":"1008","t":25,"v":122},{"s":"1008","t":25.25,"v":125},{"s":"1008","t":25.5,"v":118},{"s":"1008","t":25.75,"v":120},{"s":"1008","t":26,"v":125},{"s":"1008","t":26.25,"v":122},{"s":"1008","t":26.5,"v":120},{"s":"1008","t":26.75,"v":118},{"s":"1008","t":27,"v":115},{"s":"1008","t":27.25,"v":122},{"s":"1008","t":27.5,"v":130},{"s":"1008","t":27.75,"v":120},{"s":"1008","t":28,"v":115},{"s":"1008","t":28.3,"v":100},{"s":"1008","t":28.6,"v":75},{"s":"1008","t":29,"v":65},{"s":"1008","t":29.3,"v":72},{"s":"1008","t":29.6,"v":75},{"s":"1008","t":30,"v":70},{"s":"1008","t":30.5,"v":68},{"s":"1008","t":31,"v":65},{"s":"1008","t":31.5,"v":58},{"s":"1008","t":32,"v":55},{"s":"1008","t":32.5,"v":52},{"s":"1008","t":33,"v":50},{"s":"1008","t":33.5,"v":55},{"s":"1008","t":34,"v":52},{"s":"1008","t":34.5,"v":48},{"s":"1008","t":35,"v":48},{"s":"1008","t":35.5,"v":50},{"s":"1008","t":36,"v":50},{"s":"1008","t":36.5,"v":47},{"s":"1008","t":37,"v":45},{"s":"1008","t":37.5,"v":46},{"s":"1008","t":38,"v":45},{"s":"1008","t":39,"v":40},{"s":"1008","t":40,"v":38},{"s":"1008","t":41,"v":37},{"s":"1008","t":42,"v":35},{"s":"1008","t":43,"v":34},{"s":"1008","t":44,"v":33},{"s":"1008","t":45,"v":30},{"s":"1008","t":46,"v":28},{"s":"1008","t":46.5,"v":24},{"s":"1008","t":47,"v":22},{"s":"1008","t":48,"v":21},{"s":"1008","t":50,"v":20},{"s":"1008","t":52,"v":20},{"s":"1008","t":54,"v":19},{"s":"1008","t":56,"v":18},{"s":"1008","t":58,"v":18}
        ]
      },
      "mark": {"type": "line", "strokeWidth": 2.5, "strokeJoin": "round", "clip": true},
      "encoding": {
        "x": {
          "field": "t",
          "type": "quantitative",
          "scale": {"domain": [-5, 60], "nice": false, "zero": false},
          "axis": {
            "values": [-5, 0, 5, 10, 15, 20, 25, 30, 35, 40, 45, 50, 55, 60],
            "title": "Minutes (ts = 02:00 from ignition)",
            "grid": true,
            "gridColor": "#d9d9d9",
            "domainColor": "#bfbfbf",
            "tickColor": "#bfbfbf",
            "tickSize": 5,
            "labelFontSize": 13,
            "labelColor": "#595959",
            "labelPadding": 10,
            "titleFontSize": 16,
            "titleFontWeight": "normal",
            "titleColor": "#595959",
            "titlePadding": 10
          }
        },
        "y": {
          "field": "v",
          "type": "quantitative",
          "scale": {"domain": [0, 1000], "nice": false},
          "axis": {
            "values": [0, 50, 100, 150, 200, 250, 300, 350, 400, 450, 500, 550, 600, 650, 700, 750, 800, 850, 900, 950, 1000],
            "format": "d",
            "title": "temperature (°C)",
            "offset": -88,
            "grid": true,
            "gridColor": "#d9d9d9",
            "domainColor": "#bfbfbf",
            "tickColor": "#bfbfbf",
            "tickSize": 4,
            "labelFontSize": 13,
            "labelColor": "#595959",
            "labelPadding": 8,
            "titleFontSize": 16,
            "titleFontWeight": "normal",
            "titleColor": "#595959",
            "titleX": -101,
            "titleY": 287,
            "titleBaseline": "middle"
          }
        },
        "color": {
          "field": "s",
          "type": "nominal",
          "scale": {
            "domain": ["1001", "1002", "1003", "1004", "1005", "1006", "1007", "1008"],
            "range": ["#4F81BD", "#C0504D", "#9BBB59", "#8064A2", "#4BACC6", "#F79646", "#2C4D75", "#772C2A"]
          },
          "legend": {
            "orient": "none",
            "legendX": 245,
            "legendY": 641,
            "direction": "horizontal",
            "title": null,
            "symbolType": "stroke",
            "symbolSize": 1000,
            "symbolStrokeWidth": 3,
            "labelFontSize": 13,
            "labelColor": "#595959",
            "labelOffset": 3,
            "columnPadding": 9,
            "padding": 0
          }
        }
      }
    },
    {
      "data": {"values": [{"label": "P109938-1000"}]},
      "mark": {"type": "text", "align": "left", "baseline": "alphabetic", "fontSize": 21, "color": "#1a1a1a"},
      "encoding": {
        "x": {"datum": -5.17, "type": "quantitative"},
        "y": {"datum": 1139, "type": "quantitative"},
        "text": {"field": "label"}
      }
    },
    {
      "data": {"values": [{}]},
      "mark": {
        "type": "text",
        "align": "center",
        "baseline": "alphabetic",
        "fontSize": 20,
        "lineHeight": 25.5,
        "color": "#1a1a1a",
        "text": ["BS 8414-2:2015+A1:2017", "Kingspan Insulation  - 05/02/2018", "Level 1: External"]
      },
      "encoding": {
        "x": {"datum": 26.96, "type": "quantitative"},
        "y": {"datum": 1139, "type": "quantitative"}
      }
    }
  ]
}
